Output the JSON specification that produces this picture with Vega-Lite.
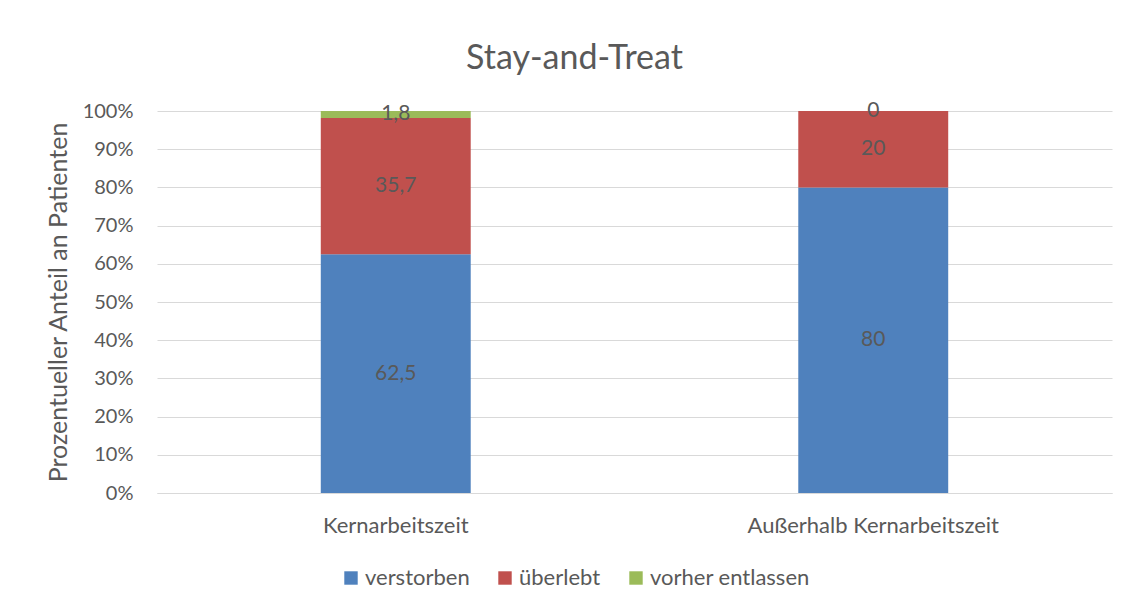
{
  "$schema": "https://vega.github.io/schema/vega-lite/v6.json",
  "width": 955,
  "height": 382,
  "autosize": {"type": "none"},
  "padding": {"left": 157, "top": 111, "right": 24, "bottom": 117},
  "background": "white",
  "title": {
    "text": "Stay-and-Treat",
    "font": "Lato",
    "fontSize": 34,
    "fontWeight": "normal",
    "color": "#595959",
    "anchor": "middle",
    "dx": -60,
    "offset": 24
  },
  "config": {
    "locale": {
      "number": {"decimal": ",", "thousands": ".", "grouping": [3], "currency": ["", " €"]}
    },
    "view": {"stroke": null},
    "font": "Lato",
    "axis": {
      "labelFont": "Lato",
      "labelColor": "#595959",
      "titleFont": "Lato",
      "titleColor": "#595959",
      "titleFontWeight": "normal",
      "gridColor": "#d9d9d9",
      "gridWidth": 1.2,
      "domainColor": "#d9d9d9",
      "domainWidth": 1.2,
      "ticks": false,
      "labelOverlap": false,
      "labelLimit": 0
    },
    "legend": {
      "labelFont": "Lato",
      "labelColor": "#595959",
      "labelFontSize": 22,
      "labelLimit": 0,
      "symbolType": "square",
      "symbolSize": 180,
      "symbolStrokeWidth": 0,
      "labelOffset": 3,
      "columnPadding": 24,
      "padding": 0
    }
  },
  "data": {
    "values": [
      {"zeit": "Kernarbeitszeit", "status": "verstorben", "rang": 1, "wert": 62.5},
      {"zeit": "Kernarbeitszeit", "status": "überlebt", "rang": 2, "wert": 35.7},
      {"zeit": "Kernarbeitszeit", "status": "vorher entlassen", "rang": 3, "wert": 1.8},
      {"zeit": "Außerhalb Kernarbeitszeit", "status": "verstorben", "rang": 1, "wert": 80},
      {"zeit": "Außerhalb Kernarbeitszeit", "status": "überlebt", "rang": 2, "wert": 20},
      {"zeit": "Außerhalb Kernarbeitszeit", "status": "vorher entlassen", "rang": 3, "wert": 0}
    ]
  },
  "encoding": {
    "x": {
      "field": "zeit",
      "type": "nominal",
      "sort": ["Kernarbeitszeit", "Außerhalb Kernarbeitszeit"],
      "scale": {"paddingInner": 0.686, "paddingOuter": 0.343},
      "axis": {
        "title": null,
        "labelAngle": 0,
        "labelFontSize": 22,
        "labelPadding": 22,
        "grid": false
      }
    },
    "order": {"field": "rang", "type": "quantitative"}
  },
  "layer": [
    {
      "mark": {"type": "bar"},
      "encoding": {
        "y": {
          "field": "wert",
          "type": "quantitative",
          "stack": "normalize",
          "scale": {"domain": [0, 1]},
          "axis": {
            "title": "Prozentueller Anteil an Patienten",
            "titleFontSize": 25,
            "titlePadding": 11,
            "format": ".0%",
            "values": [0, 0.1, 0.2, 0.3, 0.4, 0.5, 0.6, 0.7, 0.8, 0.9, 1],
            "labelOverlap": false,
            "labelFontSize": 20,
            "labelPadding": 24,
            "domain": false,
            "grid": true
          }
        },
        "color": {
          "field": "status",
          "type": "nominal",
          "sort": ["verstorben", "überlebt", "vorher entlassen"],
          "scale": {
            "domain": ["verstorben", "überlebt", "vorher entlassen"],
            "range": ["#4f81bd", "#c0504d", "#9bbb59"]
          },
          "legend": {
            "title": null,
            "orient": "none",
            "direction": "horizontal",
            "legendX": 183,
            "legendY": 456
          }
        }
      }
    },
    {
      "mark": {"type": "text", "font": "Lato", "fontSize": 21, "color": "#595959", "baseline": "middle"},
      "encoding": {
        "y": {
          "field": "wert",
          "type": "quantitative",
          "stack": "normalize",
          "bandPosition": 0.5,
          "scale": {"domain": [0, 1]},
          "axis": {
            "title": "Prozentueller Anteil an Patienten",
            "titleFontSize": 25,
            "titlePadding": 11,
            "format": ".0%",
            "values": [0, 0.1, 0.2, 0.3, 0.4, 0.5, 0.6, 0.7, 0.8, 0.9, 1],
            "labelOverlap": false,
            "labelFontSize": 20,
            "labelPadding": 24,
            "domain": false,
            "grid": true
          }
        },
        "detail": {"field": "status", "type": "nominal"},
        "text": {"field": "wert", "type": "quantitative", "format": ".1~f"}
      }
    }
  ]
}
